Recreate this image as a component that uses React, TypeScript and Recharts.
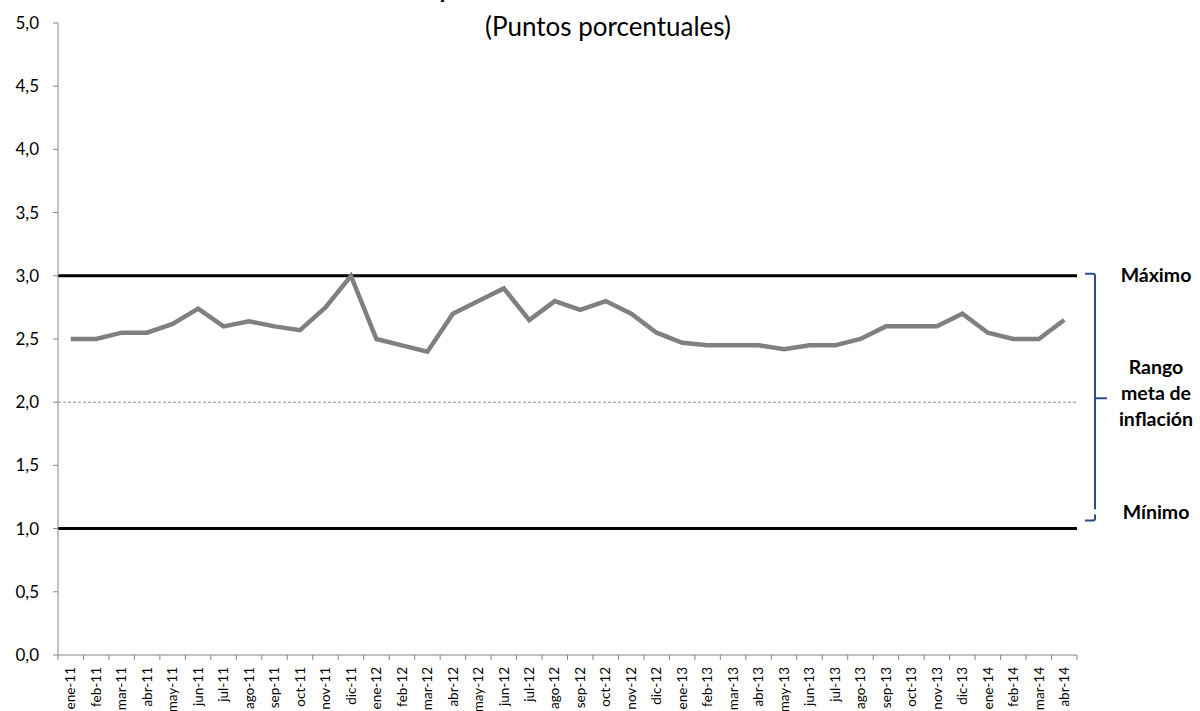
import { LineChart, Line, XAxis, YAxis, ReferenceLine } from 'recharts'

// Expectativas de inflación (puntos porcentuales), ene-11 a abr-14
const meses = [
  'ene-11', 'feb-11', 'mar-11', 'abr-11', 'may-11', 'jun-11', 'jul-11', 'ago-11', 'sep-11', 'oct-11', 'nov-11', 'dic-11',
  'ene-12', 'feb-12', 'mar-12', 'abr-12', 'may-12', 'jun-12', 'jul-12', 'ago-12', 'sep-12', 'oct-12', 'nov-12', 'dic-12',
  'ene-13', 'feb-13', 'mar-13', 'abr-13', 'may-13', 'jun-13', 'jul-13', 'ago-13', 'sep-13', 'oct-13', 'nov-13', 'dic-13',
  'ene-14', 'feb-14', 'mar-14', 'abr-14',
]

const expectativas = [
  2.5, 2.5, 2.55, 2.55, 2.62, 2.74, 2.6, 2.64, 2.6, 2.57, 2.75, 3.0,
  2.5, 2.45, 2.4, 2.7, 2.8, 2.9, 2.65, 2.8, 2.73, 2.8, 2.7, 2.55,
  2.47, 2.45, 2.45, 2.45, 2.42, 2.45, 2.45, 2.5, 2.6, 2.6, 2.6, 2.7,
  2.55, 2.5, 2.5, 2.65,
]

const yTicks = [0, 0.5, 1, 1.5, 2, 2.5, 3, 3.5, 4, 4.5, 5]
const rangoMaximo = 3
const rangoMinimo = 1
const rangoCentro = 2

const FONT = 'Lato, "Open Sans", sans-serif'
const AXIS_GREY = '#868686'
const BRACKET_BLUE = '#2B4C86'

// plot spans x 58..1077, 40 monthly bands
const HALF_BAND = (1077 - 58) / meses.length / 2

const data = meses.map((mes, i) => ({ mes, exp: expectativas[i] }))

const fmt = (v: number) => v.toFixed(1).replace('.', ',')

// month label plus Excel-style tick marks between categories
function MonthTick(props: any) {
  const { x, y, payload, index } = props
  const last = index === meses.length - 1
  return (
    <g>
      <line x1={x - HALF_BAND} x2={x - HALF_BAND} y1={y} y2={y + 5} stroke={AXIS_GREY} />
      {last && <line x1={x + HALF_BAND} x2={x + HALF_BAND} y1={y} y2={y + 5} stroke={AXIS_GREY} />}
      <text
        x={x}
        y={y + 12}
        transform={`rotate(-90, ${x}, ${y + 12})`}
        textAnchor="end"
        dy="0.35em"
        fontSize={13.5}
        fontFamily={FONT}
        fill="#000"
      >
        {payload.value}
      </text>
    </g>
  )
}

// labels drawn to the right of the plot, tied to the reference lines
function MaxLabel(props: any) {
  const { viewBox } = props
  const right = viewBox.x + viewBox.width
  return (
    <g>
      <path
        d={`M ${right + 8} ${viewBox.y - 2} L ${right + 16} ${viewBox.y - 2} Q ${right + 18} ${viewBox.y - 2} ${right + 18} ${viewBox.y} L ${right + 18} ${viewBox.y + 4}`}
        fill="none"
        stroke={BRACKET_BLUE}
        strokeWidth={2}
      />
      <text x={right + 79} y={viewBox.y + 6} textAnchor="middle" fontSize={19.5} fontWeight={700} fontFamily={FONT}>
        Máximo
      </text>
    </g>
  )
}

function MinLabel(props: any) {
  const { viewBox } = props
  const right = viewBox.x + viewBox.width
  return (
    <g>
      <path
        d={`M ${right + 18} ${viewBox.y - 14} L ${right + 18} ${viewBox.y - 10} Q ${right + 18} ${viewBox.y - 8} ${right + 16} ${viewBox.y - 8} L ${right + 8} ${viewBox.y - 8}`}
        fill="none"
        stroke={BRACKET_BLUE}
        strokeWidth={2}
      />
      <text x={right + 79} y={viewBox.y - 10} textAnchor="middle" fontSize={19.5} fontWeight={700} fontFamily={FONT}>
        Mínimo
      </text>
    </g>
  )
}

function RangoLabel(props: any) {
  const { viewBox } = props
  const right = viewBox.x + viewBox.width
  const cy = viewBox.y - 4
  return (
    <g>
      <path
        d={`M ${right + 18} ${cy - 122} L ${right + 18} ${cy + 111} M ${right + 18} ${cy} L ${right + 30} ${cy}`}
        fill="none"
        stroke={BRACKET_BLUE}
        strokeWidth={2}
      />
      <text textAnchor="middle" fontSize={19.5} fontWeight={700} fontFamily={FONT}>
        <tspan x={right + 79} y={cy - 24}>Rango</tspan>
        <tspan x={right + 79} y={cy + 2}>meta de</tspan>
        <tspan x={right + 79} y={cy + 28}>inflación</tspan>
      </text>
    </g>
  )
}

export default function App() {
  return (
    <div style={{ position: 'absolute', left: 0, top: 0, width: 1200, height: 711, background: '#fff' }}>
      <svg width={1200} height={60} style={{ position: 'absolute', left: 0, top: 0 }}>
        <text x={608} y={-2} textAnchor="middle" fontSize={24} fontWeight={700} fontFamily={FONT}>
          Expectativas de inflación a 12 meses
        </text>
        <text x={608} y={36} textAnchor="middle" fontSize={26} fontFamily={FONT}>
          (Puntos porcentuales)
        </text>
      </svg>
      <LineChart width={1200} height={711} data={data} margin={{ top: 23, right: 123, left: 0, bottom: 0 }}>
        <XAxis
          xAxisId="cat"
          dataKey="mes"
          interval={0}
          padding={{ left: HALF_BAND, right: HALF_BAND }}
          tickLine={false}
          axisLine={{ stroke: AXIS_GREY }}
          tickSize={0}
          tickMargin={0}
          height={56}
          tick={<MonthTick />}
        />
        <YAxis
          domain={[0, 5]}
          ticks={yTicks}
          tickFormatter={fmt}
          width={58}
          tickSize={5}
          tickMargin={14}
          stroke={AXIS_GREY}
          tick={{ fill: '#000', fontSize: 17, fontFamily: FONT }}
        />
        <ReferenceLine xAxisId="cat" y={rangoCentro} stroke="#8c8c8c" strokeWidth={1} strokeDasharray="3 2" label={<RangoLabel />} />
        <ReferenceLine xAxisId="cat" y={rangoMaximo} stroke="#000" strokeWidth={3} label={<MaxLabel />} />
        <ReferenceLine xAxisId="cat" y={rangoMinimo} stroke="#000" strokeWidth={3} label={<MinLabel />} />
        <Line
          xAxisId="cat"
          dataKey="exp"
          stroke="#808080"
          strokeWidth={4.5}
          dot={false}
          isAnimationActive={false}
        />
      </LineChart>
    </div>
  )
}
